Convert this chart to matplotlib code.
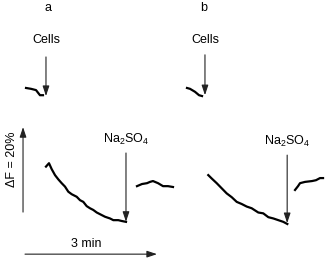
import matplotlib
matplotlib.use("Agg")
import matplotlib.pyplot as plt

plt.rcParams["font.family"] = ["Liberation Sans", "DejaVu Sans"]
plt.rcParams["mathtext.fontset"] = "custom"
plt.rcParams["mathtext.rm"] = "Liberation Sans"
plt.rcParams["mathtext.it"] = "Liberation Sans"

# time in s, fluorescence in % ; panel b times are relative to its own panel
B_OFFSET = 225

# panel a
cells_a_t = [35.5, 42.3, 49.1, 54.5, 58.6]
cells_a_f = [43.3, 43.1, 42.8, 41.6, 41.6]
main_a_t = [62.7, 66.8, 70.5, 75.0, 79.5, 84.1, 88.6, 93.1, 97.8, 104.6, 109.1, 113.6,
            118.2, 122.7, 127.2, 131.9, 136.4, 143.2, 150.0, 154.5, 161.3, 166.0, 171.8]
main_a_f = [24.8, 25.6, 24.2, 22.8, 21.8, 20.9, 20.1, 18.9, 18.3, 17.7, 16.9, 16.5,
            15.5, 15.0, 14.6, 14.0, 13.6, 13.0, 12.6, 12.2, 12.2, 12.0, 11.8]
rec_a_t = [186.8, 193.6, 200.5, 204.5, 208.6, 215.5, 222.3, 229.1, 235.9]
rec_a_f = [20.2, 20.7, 20.9, 21.2, 21.4, 20.9, 20.2, 20.2, 20.0]

# panel b
cells_b_t = [30.0, 34.1, 40.9, 46.4, 50.5]
cells_b_f = [43.3, 43.1, 42.4, 41.6, 41.4]
main_b_t = [59.0, 63.7, 70.5, 77.3, 84.1, 91.0, 97.8, 104.6, 111.4, 118.2, 127.2,
            134.0, 140.9, 147.7, 154.5, 161.3, 166.8]
main_b_f = [22.8, 22.0, 20.9, 19.7, 18.5, 17.6, 16.5, 16.0, 15.4, 15.0, 14.0,
            13.8, 12.9, 12.6, 12.2, 11.8, 11.3]
rec_b_t = [177.3, 181.4, 184.1, 190.9, 200.5, 205.9, 211.4, 215.5]
rec_b_f = [19.3, 20.2, 20.9, 21.2, 21.4, 21.6, 22.1, 22.1]

# additions: (time, label)
cells_a = 62.7
cells_b = 54.5
na_a = 171.8
na_b = 166.6
scale_time = 180   # 3 min
scale_df = 20      # 20 %

fig = plt.figure(figsize=(3.3, 2.72), dpi=100)
ax = fig.add_axes([0, 0, 1, 1])
ax.set_xlim(0, 450)
ax.set_ylim(0, 64)
ax.axis("off")

lw = 1.6
for t, f, off in [(cells_a_t, cells_a_f, 0), (main_a_t, main_a_f, 0), (rec_a_t, rec_a_f, 0),
                  (cells_b_t, cells_b_f, B_OFFSET), (main_b_t, main_b_f, B_OFFSET),
                  (rec_b_t, rec_b_f, B_OFFSET)]:
    ax.plot([x + off for x in t], f, color="black", lw=lw, solid_joinstyle="round")

arrow = dict(arrowstyle="-|>,head_length=0.6,head_width=0.2", color="#222222",
             lw=0.8, mutation_scale=10, shrinkA=0, shrinkB=0)
fs = 9

def add_arrow(x, y0, y1, label, ty):
    ax.annotate("", xy=(x, y1), xytext=(x, y0), arrowprops=arrow)
    ax.text(x, ty, label, ha="center", va="center", fontsize=fs)

add_arrow(cells_a, 50.6, 41.4, "Cells", 54.6)
add_arrow(cells_b + B_OFFSET, 51.1, 41.6, "Cells", 54.6)
add_arrow(na_a, 28.0, 11.8, "Na$_2$SO$_4$", 31.3)
add_arrow(na_b + B_OFFSET, 27.5, 11.5, "Na$_2$SO$_4$", 30.6)

ax.text(65.5, 62.1, "a", ha="center", va="center", fontsize=fs)
ax.text(53.2 + B_OFFSET, 62.1, "b", ha="center", va="center", fontsize=fs)

# scale bars
ax.annotate("", xy=(31.4, 14.1 + scale_df), xytext=(31.4, 14.1), arrowprops=arrow)
ax.text(16.4, 26.6, "ΔF = 20%", rotation=90, ha="center", va="center", fontsize=fs)
ax.annotate("", xy=(34.1 + scale_time, 4.2), xytext=(34.1, 4.2), arrowprops=arrow)
ax.text(117, 6.6, "3 min", ha="center", va="center", fontsize=fs)

fig.savefig("out.png", dpi=100)
